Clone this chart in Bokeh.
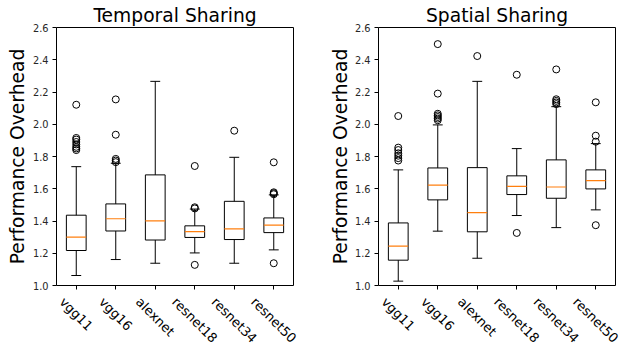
import math
from bokeh.plotting import figure
from bokeh.models import Range1d, FixedTicker
from bokeh.layouts import row, column
from bokeh.core.properties import value
from bokeh.embed import file_html
from bokeh.resources import INLINE

# ---------------- data ----------------
categories = ["vgg11", "vgg16", "alexnet", "resnet18", "resnet34", "resnet50"]
y_ticks = [1.0, 1.2, 1.4, 1.6, 1.8, 2.0, 2.2, 2.4, 2.6]

temporal_whislo = [1.062, 1.161, 1.138, 1.202, 1.138, 1.221]
temporal_q1 = [1.217, 1.338, 1.282, 1.298, 1.285, 1.328]
temporal_med = [1.300, 1.414, 1.401, 1.334, 1.351, 1.374]
temporal_q3 = [1.436, 1.506, 1.686, 1.370, 1.522, 1.419]
temporal_whishi = [1.737, 1.758, 2.266, 1.474, 1.795, 1.562]
temporal_fliers = [
    [1.840, 1.850, 1.860, 1.875, 1.890, 1.905, 1.915, 2.121],
    [1.765, 1.775, 1.785, 1.935, 2.154],
    [],
    [1.128, 1.478, 1.485, 1.741],
    [1.960],
    [1.138, 1.566, 1.572, 1.578, 1.764],
]

spatial_whislo = [1.027, 1.337, 1.169, 1.434, 1.359, 1.469]
spatial_q1 = [1.157, 1.531, 1.333, 1.564, 1.541, 1.599]
spatial_med = [1.244, 1.622, 1.452, 1.615, 1.611, 1.651]
spatial_q3 = [1.388, 1.729, 1.731, 1.680, 1.779, 1.717]
spatial_whishi = [1.717, 1.996, 2.266, 1.849, 2.109, 1.880]
spatial_fliers = [
    [1.775, 1.790, 1.805, 1.820, 1.840, 1.855, 2.051],
    [2.025, 2.035, 2.045, 2.055, 2.065, 2.190, 2.497],
    [2.423],
    [1.326, 2.307],
    [2.125, 2.135, 2.145, 2.155, 2.340],
    [1.374, 1.892, 1.929, 2.136],
]

FONT = "DejaVu Sans"
TOP_H = 292      # frame bottom at 285, 7 px left for ticks / "1.0"
BOTTOM_GAP = 7
LAB_H = 352 - TOP_H
# approximate DejaVu Sans advance widths (em), used only to place rotated labels
CHAR_W = {"v": .592, "g": .635, "a": .613, "l": .278, "e": .615, "x": .592,
          "n": .634, "t": .392, "r": .411, "s": .521}


def text_width(s, size):
    return sum(CHAR_W.get(c, .636) for c in s) * size


def make_panel(title, whislo, q1, med, q3, whishi, fliers, width, bl, br, ylabel_standoff):
    pos = [i + 1 for i in range(len(categories))]
    x0, x1 = 0.5, 6.5
    p = figure(width=width, height=TOP_H, output_backend="svg", toolbar_location=None,
               x_range=Range1d(x0, x1), y_range=Range1d(1.0, 2.6),
               min_border_left=bl, min_border_right=br, min_border_top=27,
               min_border_bottom=BOTTOM_GAP, title=title)
    p.title.text_font = FONT
    p.title.text_font_size = "18.7px"
    p.title.text_font_style = "normal"
    p.title.text_color = "black"
    p.title.align = "center"
    p.title.standoff = 3
    p.grid.visible = False
    p.outline_line_color = "black"
    p.outline_line_width = 1
    p.background_fill_color = "white"
    p.border_fill_color = "white"

    # y axis
    p.yaxis.ticker = FixedTicker(ticks=y_ticks)
    p.yaxis.major_label_overrides = {t: f"{t:.1f}" for t in y_ticks}
    p.yaxis.axis_label = "Performance Overhead"
    p.yaxis.axis_label_text_font = FONT
    p.yaxis.axis_label_text_font_size = "18.7px"
    p.yaxis.axis_label_text_font_style = "normal"
    p.yaxis.axis_label_text_color = "black"
    p.yaxis.axis_label_standoff = ylabel_standoff
    p.yaxis.major_label_text_font = FONT
    p.yaxis.major_label_text_font_size = "9.8px"
    p.yaxis.major_label_text_color = "#262626"
    p.yaxis.major_label_standoff = 4

    # x axis: ticks only (names are drawn rotated in the strip below)
    p.xaxis.ticker = FixedTicker(ticks=pos)
    p.xaxis.major_label_overrides = {k: "" for k in pos}
    p.xaxis.major_label_text_font_size = "1px"
    p.xaxis.major_label_standoff = 0
    for ax in (p.xaxis, p.yaxis):
        ax.minor_tick_line_color = None
        ax.axis_line_color = None
        ax.major_tick_in = 0
        ax.major_tick_out = 4
        ax.major_tick_line_color = "black"
        ax.major_tick_line_width = 1

    # boxes
    p.segment(x0=pos, y0=q1, x1=pos, y1=whislo, line_color="black", line_width=1)
    p.segment(x0=pos, y0=q3, x1=pos, y1=whishi, line_color="black", line_width=1)
    p.segment(x0=[x - 0.125 for x in pos], y0=whislo, x1=[x + 0.125 for x in pos],
              y1=whislo, line_color="black", line_width=1)
    p.segment(x0=[x - 0.125 for x in pos], y0=whishi, x1=[x + 0.125 for x in pos],
              y1=whishi, line_color="black", line_width=1)
    p.vbar(x=pos, width=0.5, bottom=q1, top=q3, fill_color=None,
           line_color="black", line_width=1)
    p.segment(x0=[x - 0.25 for x in pos], y0=med, x1=[x + 0.25 for x in pos],
              y1=med, line_color="#ff7f0e", line_width=1.2)
    fx, fy = [], []
    for x, fl in zip(pos, fliers):
        fx += [x] * len(fl)
        fy += fl
    p.scatter(fx, fy, marker="circle", size=7, fill_color=None,
              line_color="black", line_width=1)

    # strip under the plot holding the rotated category names; its frame spans the
    # whole width, so its x range is widened to keep the same data->pixel mapping
    ppu = (width - bl - br) / (x1 - x0)
    lab = figure(width=width, height=LAB_H, output_backend="svg", toolbar_location=None,
                 x_range=Range1d(x0 - bl / ppu, x1 + br / ppu),
                 y_range=Range1d(-LAB_H, 0), x_axis_type=None, y_axis_type=None,
                 min_border_left=0, min_border_right=0,
                 min_border_top=0, min_border_bottom=0)
    lab.outline_line_color = None
    lab.background_fill_color = "white"
    lab.border_fill_color = "white"
    fs = 13
    ys = [-(7 + 0.354 * text_width(c, fs)) for c in categories]
    lab.text(x=pos, y=ys, text=categories, angle=-math.pi / 4,
             text_align="center", text_baseline="middle",
             text_font=value(FONT), text_font_size=value(f"{fs}px"),
             text_color="black")
    return p, lab


p1, l1 = make_panel("Temporal Sharing", temporal_whislo, temporal_q1, temporal_med,
                    temporal_q3, temporal_whishi, temporal_fliers, 310, 56, 17, 2)
p2, l2 = make_panel("Spatial Sharing", spatial_whislo, spatial_q1, spatial_med,
                    spatial_q3, spatial_whishi, spatial_fliers, 311, 68, 6, 1)

layout = column(row(p1, p2), row(l1, l2))
open("out.html", "w").write(file_html(layout, INLINE))
